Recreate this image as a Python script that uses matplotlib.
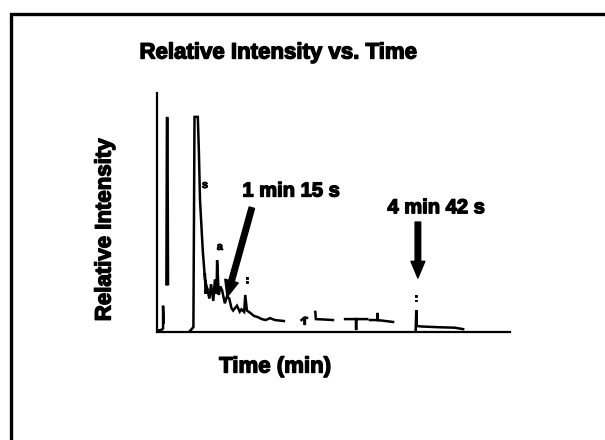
import numpy as np
import matplotlib
matplotlib.use("Agg")
import matplotlib.pyplot as plt
import matplotlib.patheffects as pe
from matplotlib.lines import Line2D

nan = np.nan
# chromatogram trace (time in min, relative intensity %), gaps = NaN
time = [0.00, 0.09, 0.11, 0.11, 0.12, nan,
        0.17, 0.18, 0.19, 0.20, nan,
        0.60, 0.66, 0.68, 0.74, 0.76, 0.78, 0.83, 0.87, 0.91, nan,
        0.87, 0.88, 0.90, 0.95, 0.98, 1.02, 1.05, 1.08, 1.09, 1.12, 1.15, 1.18,
        1.23, 1.27, 1.31, 1.35, 1.38, 1.45, 1.50, 1.53, 1.58, 1.60, 1.63, 1.69,
        1.76, 1.82, 1.90, 1.97, 2.05, 2.14, 2.30, nan,
        2.62, 2.66, 2.68, 2.68, 2.68, 2.72, nan,
        2.87, 2.88, 3.05, 3.19, nan,
        3.41, 3.61, 3.61, 3.61, 3.81, nan,
        3.86, 4.00, 4.00, 4.00, 4.28, nan,
        4.69, 4.70, 4.71, 4.80, 5.10, 5.40, 5.55]
intensity = [0.5, 1.0, 1.5, 11.0, 4.0, nan,
             20.0, 89.5, 89.5, 20.0, nan,
             0.5, 2.0, 90.0, 90.0, 75.0, 55.0, 34.0, 22.0, 18.0, nan,
             24.0, 16.0, 19.0, 14.0, 20.0, 13.0, 22.0, 16.0, 30.0, 15.5, 19.0, 17.5,
             12.0, 15.0, 14.0, 10.0, 9.0, 11.0, 8.5, 9.5, 8.4, 15.5, 9.0, 8.0,
             6.7, 6.3, 5.4, 5.0, 5.8, 5.0, 4.6, nan,
             5.0, 5.8, 5.9, 2.9, 5.9, 5.9, nan,
             8.4, 5.4, 5.2, 5.0, nan,
             5.4, 5.4, 0.8, 5.4, 5.4, nan,
             5.0, 5.0, 8.0, 5.0, 4.2, nan,
             0.8, 9.2, 2.5, 2.3, 2.0, 1.8, 1.2]

# small peak marks from the scanned original
mark_text = ["s", "a", ":", ":"]
mark_time = [0.87, 1.14, 1.63, 4.70]
mark_int = [61.5, 35.6, 21.8, 14.2]

# annotations: (label, text position, arrow start, arrow tip)
ann_labels = ["1 min 15 s", "4 min 42 s"]
ann_text_xy = [(2.43, 59.0), (5.06, 52.0)]
ann_tail_xy = [(1.72, 52.0), (4.73, 46.0)]
ann_tip_xy = [(1.27, 14.6), (4.73, 22.6)]

title = "Relative Intensity vs. Time"
xlabel = "Time (min)"
ylabel = "Relative Intensity"

FONT = ["Liberation Sans Narrow", "Liberation Sans", "DejaVu Sans"]
heavy = [pe.withStroke(linewidth=1.0, foreground="black")]

fig = plt.figure(figsize=(6.05, 4.4), dpi=100)
fig.patch.set_facecolor("white")

W, H = 605, 440
ax = fig.add_axes([157 / W, 1 - 332 / H, (510 - 157) / W, (332 - 93) / H])
ax.plot(time, intensity, color="black", lw=1.8, solid_joinstyle="miter")
ax.set_xlim(0, 6.4)
ax.set_ylim(0, 100)
for s in ["top", "right"]:
    ax.spines[s].set_visible(False)
for s in ["left", "bottom"]:
    ax.spines[s].set_linewidth(1.6)
ax.set_xticks([])
ax.set_yticks([])

for t, x, y in zip(mark_text, mark_time, mark_int):
    ax.text(x, y, t, fontsize=8, fontweight="bold", ha="center", va="center",
            family=FONT, path_effects=[pe.withStroke(linewidth=0.6,
                                                     foreground="black")])

for lab, txy, tail, tip in zip(ann_labels, ann_text_xy, ann_tail_xy, ann_tip_xy):
    ax.text(txy[0], txy[1], lab, fontsize=14.5, fontweight="bold", ha="center",
            va="center", family=FONT, path_effects=heavy)
    ax.annotate("", xy=tip, xytext=tail,
                arrowprops=dict(facecolor="black", edgecolor="black",
                                width=4.0, headwidth=10, headlength=12,
                                shrink=0.0))

fig.text(278 / W, 1 - 53 / H, title, fontsize=16, fontweight="bold",
         ha="center", va="center", family=FONT, path_effects=heavy)
fig.text(275 / W, 1 - 367 / H, xlabel, fontsize=16, fontweight="bold",
         ha="center", va="center", family=FONT, path_effects=heavy)
fig.text(105 / W, 1 - 230 / H, ylabel, fontsize=16, fontweight="bold",
         ha="center", va="center", rotation=90, family=FONT, path_effects=heavy)

# frame of the slide (left and top edges visible)
fig.add_artist(Line2D([11 / W, 11 / W, 1.0], [0.0, 1 - 14 / H, 1 - 14 / H],
                      transform=fig.transFigure, color="black", lw=2.4,
                      solid_joinstyle="miter"))

fig.savefig("out.png", dpi=100, facecolor="white")
